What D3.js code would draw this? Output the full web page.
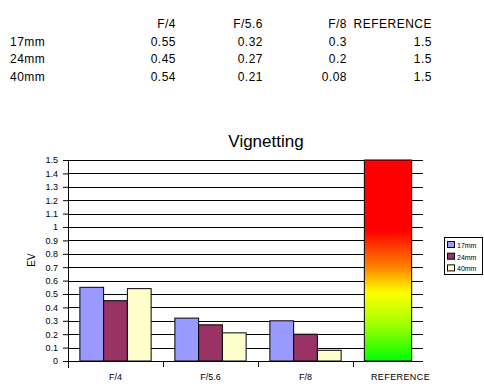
<!DOCTYPE html>
<html>
<head>
<meta charset="utf-8">
<script src="https://cdn.jsdelivr.net/npm/d3@7"></script>
<style>
body { margin: 0; background: #fff; }
text { font-family: Arial, "Liberation Sans", sans-serif; fill: #000; }
.tbl { font-size: 12px; letter-spacing: 0.5px; }
</style>
</head>
<body>
<div id="chart"></div>
<script>
var apertures = ['F/4', 'F/5.6', 'F/8']
var lenses = ['17mm', '24mm', '40mm']
var v17 = [0.55, 0.32, 0.3]
var v24 = [0.45, 0.27, 0.2]
var v40 = [0.54, 0.21, 0.08]
var refLabel = 'REFERENCE'
var refValue = 1.5
var yTicks = [0, 0.1, 0.2, 0.3, 0.4, 0.5, 0.6, 0.7, 0.8, 0.9, 1, 1.1, 1.2, 1.3, 1.4, 1.5]
var colors = ['#9999ff', '#993366', '#ffffcc']

var series = [v17, v24, v40]

var svg = d3.select('#chart')
            .append('svg')
            .attr('width', 484)
            .attr('height', 386)

// data table on top
var colRight = [176, 263, 347, 432]
var rowY = [28, 46, 63, 81]
var header = apertures.concat([refLabel])
header.forEach(function(h, i){
  svg.append('text')
     .attr('class', 'tbl')
     .attr('x', colRight[i]).attr('y', rowY[0])
     .attr('text-anchor', 'end')
     .text(h)
})
lenses.forEach(function(l, r){
  svg.append('text')
     .attr('class', 'tbl')
     .attr('x', 10).attr('y', rowY[r+1])
     .text(l)
  series[r].concat([refValue]).forEach(function(v, c){
    svg.append('text')
       .attr('class', 'tbl')
       .attr('x', colRight[c]).attr('y', rowY[r+1])
       .attr('text-anchor', 'end')
       .text(String(v))
  })
})

// chart
var plotL = 68, plotR = 423, plotT = 160, plotB = 361
var y = d3.scaleLinear().domain([0, 1.5]).range([plotB, plotT])
var x0 = d3.scaleBand().domain(apertures).range([plotL, 353])
var x1 = d3.scaleBand().domain(lenses).range([0, x0.bandwidth()]).paddingOuter(0.5)
var xr = d3.scaleBand().domain([refLabel]).range([353, plotR]).paddingOuter(0.24)

svg.append('text')
   .attr('x', 266).attr('y', 147)
   .attr('text-anchor', 'middle')
   .style('font-size', '17px')
   .text('Vignetting')

// gridlines + y axis
var yAxis = svg.append('g')
   .attr('transform', 'translate(' + plotL + ',0)')
   .call(d3.axisLeft(y).tickValues(yTicks).tickSize(5).tickPadding(5).tickFormat(d3.format('')))
yAxis.select('.domain').remove()
yAxis.selectAll('text').style('font-size', '9px')
yAxis.selectAll('line').attr('stroke', '#000')

svg.append('g')
   .selectAll('line')
   .data(yTicks)
   .enter().append('line')
   .attr('x1', plotL).attr('x2', plotR)
   .attr('y1', function(d){ return Math.round(y(d)) + 0.5 })
   .attr('y2', function(d){ return Math.round(y(d)) + 0.5 })
   .attr('stroke', '#000')

svg.append('line')
   .attr('x1', plotL + 0.5).attr('x2', plotL + 0.5)
   .attr('y1', plotT).attr('y2', plotB + 7)
   .attr('stroke', '#000')

// x ticks
var tickX = apertures.map(function(a){ return x0(a) }).concat([xr.range()[0]])
tickX.forEach(function(t){
  svg.append('line')
     .attr('x1', Math.round(t) + 0.5).attr('x2', Math.round(t) + 0.5)
     .attr('y1', plotB).attr('y2', plotB + 6)
     .attr('stroke', '#000')
})
apertures.forEach(function(a){
  svg.append('text')
     .attr('x', x0(a) + x0.bandwidth() / 2).attr('y', 380)
     .attr('text-anchor', 'middle')
     .style('font-size', '9px')
     .text(a)
})
svg.append('text')
   .attr('x', xr.range()[0] + x0.step() / 2).attr('y', 380)
   .attr('text-anchor', 'middle')
   .style('font-size', '9px')
   .style('letter-spacing', '0.4px')
   .text(refLabel)

// bars
apertures.forEach(function(a, i){
  lenses.forEach(function(l, j){
    var v = series[j][i]
    svg.append('rect')
       .attr('x', x0(a) + x1(l))
       .attr('y', y(v))
       .attr('width', x1.bandwidth())
       .attr('height', y(0) - y(v))
       .attr('fill', colors[j])
       .attr('stroke', '#000')
  })
})

var grad = svg.append('defs').append('linearGradient')
   .attr('id', 'refgrad')
   .attr('x1', 0).attr('y1', 0).attr('x2', 0).attr('y2', 1)
var stops = [[0, '#ff0000'], [0.35, '#ff0000'], [0.53, '#ff8000'], [0.66, '#ffff00'], [0.82, '#a0ff00'], [1, '#00ff00']]
stops.forEach(function(s){
  grad.append('stop').attr('offset', s[0]).attr('stop-color', s[1])
})

svg.append('rect')
   .attr('x', xr(refLabel))
   .attr('y', y(refValue))
   .attr('width', xr.bandwidth())
   .attr('height', y(0) - y(refValue))
   .attr('fill', 'url(#refgrad)')
   .attr('stroke', '#000')

// EV label
svg.append('text')
   .attr('transform', 'translate(35,260) rotate(-90)')
   .attr('text-anchor', 'middle')
   .style('font-size', '10px')
   .text('EV')

// legend
var lg = svg.append('g').attr('transform', 'translate(444,237)')
lg.append('rect')
  .attr('x', 0.5).attr('y', 0.5).attr('width', 38).attr('height', 37)
  .attr('fill', '#fff').attr('stroke', '#000')
lenses.forEach(function(l, i){
  lg.append('rect')
    .attr('x', 3.5).attr('y', 4.5 + i * 11.7)
    .attr('width', 7).attr('height', 6)
    .attr('fill', colors[i]).attr('stroke', '#000')
  lg.append('text')
    .attr('x', 13).attr('y', 11 + i * 11.7)
    .style('font-size', '7px')
    .text(l)
})
</script>
</body>
</html>
